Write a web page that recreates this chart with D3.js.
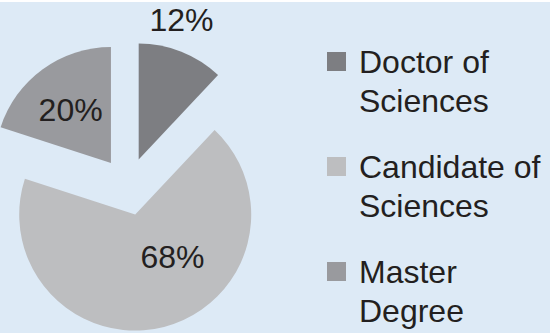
<!DOCTYPE html>
<html>
<head>
<meta charset="utf-8">
<script src="https://cdn.jsdelivr.net/npm/d3@7"></script>
<style>
  body { margin: 0; background: #fff; }
  text { font-family: "Liberation Sans", Arial, Helvetica, sans-serif; fill: #231f20; }
</style>
</head>
<body>
<script>
// degree shares of the staff, in pie order (clockwise from 12 o'clock)
var categories = ["Doctor of Sciences", "Candidate of Sciences", "Master Degree"];
var legendLines = [["Doctor of", "Sciences"], ["Candidate of", "Sciences"], ["Master", "Degree"]];
var shares = [12, 68, 20];
var sliceColors = ["#7d7e82", "#bdbec0", "#999a9e"];

var width = 550, height = 333;
var radius = 116, explode = 29;
var center = {x: 128, y: 186.5};

// where each percentage sits: distance from pie centre and a small angle shift (deg)
var labelPlace = [{r: 175, shift: -3.8}, {r: 83, shift: -18}, {r: 96, shift: -0.7}];

var svg = d3.select("body")
            .append("svg")
              .attr("width", width)
              .attr("height", height);

svg.append("rect")
   .attr("y", 2)
   .attr("width", width)
   .attr("height", height - 2)
   .attr("fill", "#ddeaf6");

var pie = d3.pie().sort(null).value(function(d) { return d; });
var arcs = pie(shares);

var arc = d3.arc().innerRadius(0).outerRadius(radius);

var g = svg.append("g")
           .attr("transform", "translate(" + center.x + "," + center.y + ")");

function mid(d) { return (d.startAngle + d.endAngle) / 2; }

g.selectAll("path")
 .data(arcs)
 .enter()
 .append("path")
   .attr("d", arc)
   .attr("fill", function(d, i) { return sliceColors[i]; })
   .attr("transform", function(d) {
      var a = mid(d);
      return "translate(" + (Math.sin(a) * explode) + "," + (-Math.cos(a) * explode) + ")";
   });

g.selectAll("text.pct")
 .data(arcs)
 .enter()
 .append("text")
   .attr("class", "pct")
   .attr("text-anchor", "middle")
   .attr("dy", "0.36em")
   .style("font-size", "32px")
   .attr("x", function(d, i) { return Math.sin(mid(d) + labelPlace[i].shift * Math.PI / 180) * labelPlace[i].r; })
   .attr("y", function(d, i) { return -Math.cos(mid(d) + labelPlace[i].shift * Math.PI / 180) * labelPlace[i].r; })
   .text(function(d) { return d.data + "%"; });

// legend
var legend = svg.append("g")
                .attr("transform", "translate(327,52)");

var item = legend.selectAll("g")
                 .data(categories)
                 .enter()
                 .append("g")
                   .attr("transform", function(d, i) { return "translate(0," + (i * 105) + ")"; });

item.append("rect")
    .attr("width", 19)
    .attr("height", 19)
    .attr("fill", function(d, i) { return sliceColors[i]; });

item.append("text")
    .attr("x", 32)
    .attr("y", 21)
    .style("font-size", "32px")
    .selectAll("tspan")
    .data(function(d, i) { return legendLines[i]; })
    .enter()
    .append("tspan")
      .attr("x", 32)
      .attr("dy", function(d, j) { return j === 0 ? 0 : 38.5; })
      .text(function(d) { return d; });
</script>
</body>
</html>
